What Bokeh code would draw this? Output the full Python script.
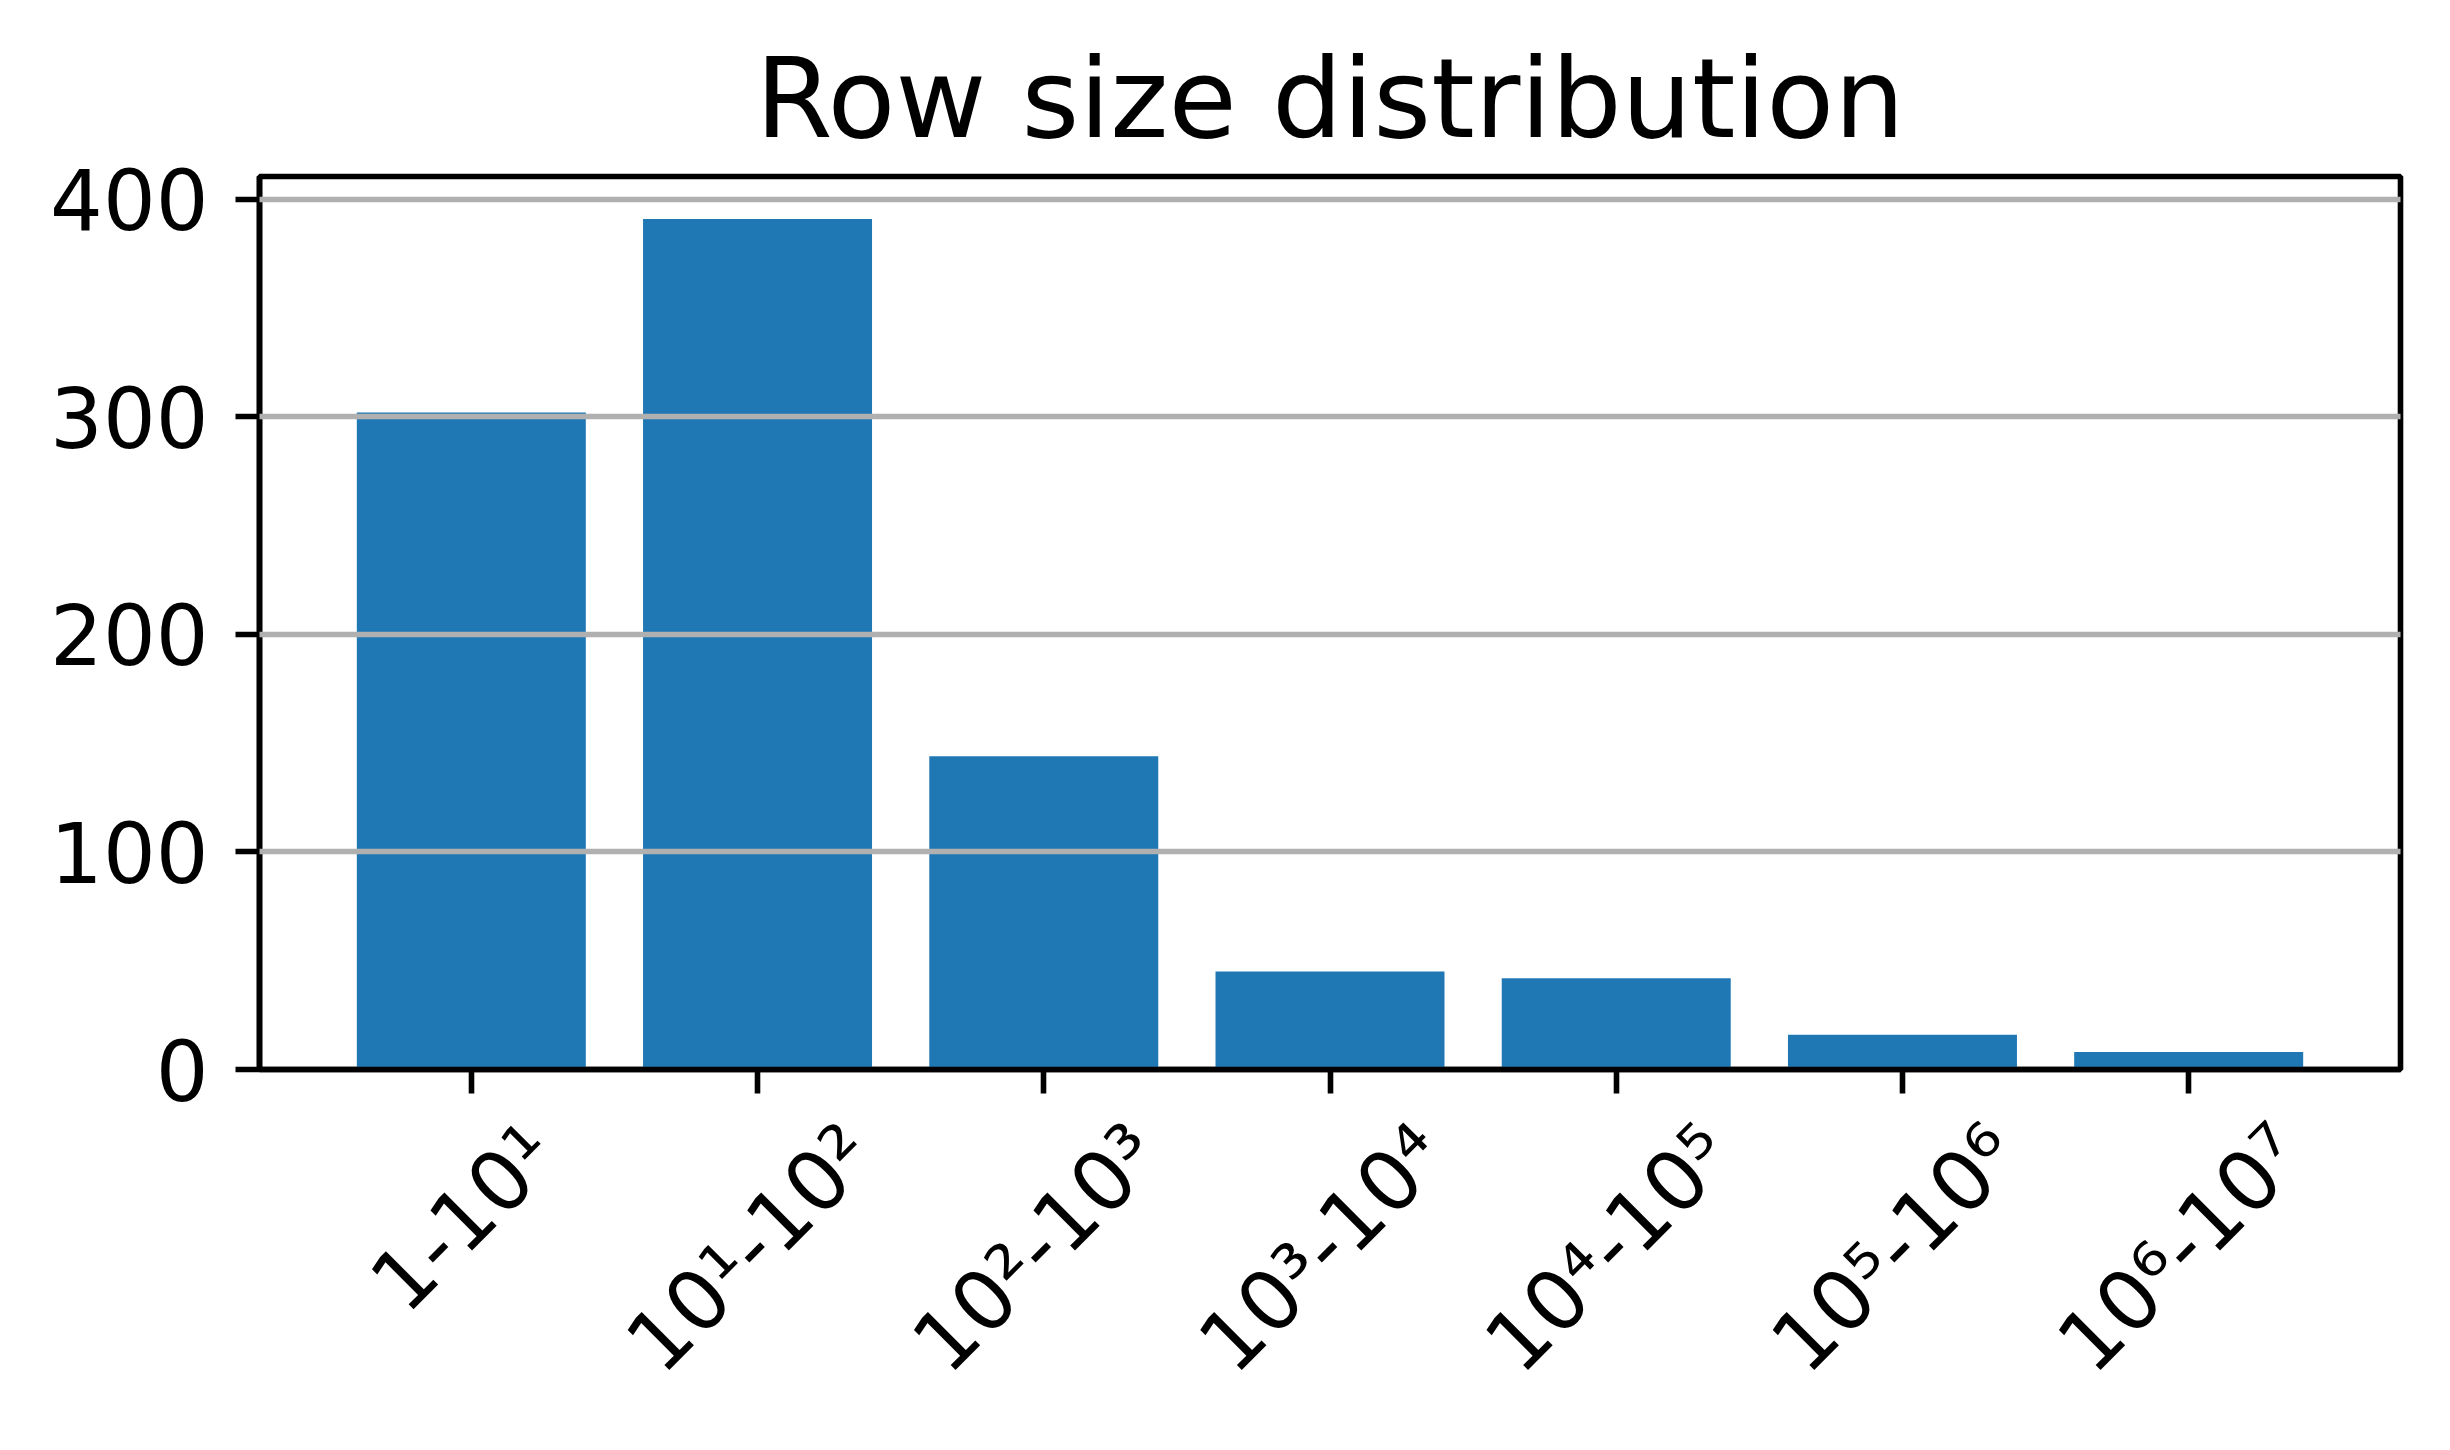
import math
from bokeh.plotting import figure
from bokeh.models import ColumnDataSource, Range1d, FixedTicker
from bokeh.embed import file_html
from bokeh.resources import INLINE

# ---- data ----
categories = ["1-10¹", "10¹-10²", "10²-10³", "10³-10⁴", "10⁴-10⁵", "10⁵-10⁶", "10⁶-10⁷"]
counts = [302, 391, 144, 45, 42, 16, 8]
y_ticks = [0, 100, 200, 300, 400]
grid_ticks = [100, 200, 300, 400]
title_text = "Row size distribution"

FONT = "DejaVu Sans"
LW = 5.6
W, H = 2434, 1434
BL, BR, BT, BB = 259, 34, 176, 365

xs = list(range(len(categories)))
ymax = max(counts) * 1.05
x0, x1 = -0.74, len(categories) - 1 + 0.74

p = figure(width=W, height=H, output_backend="svg", toolbar_location=None,
           x_range=Range1d(x0, x1), y_range=Range1d(0, ymax),
           min_border_left=BL, min_border_right=BR,
           min_border_top=BT, min_border_bottom=BB)
p.background_fill_color = "white"
p.border_fill_color = "white"
p.outline_line_color = "black"
p.outline_line_width = LW

src = ColumnDataSource(dict(x=xs, top=counts))
p.vbar(x="x", top="top", bottom=0, width=0.8, source=src,
       fill_color="#1f77b4", line_color=None)

# title
p.title.text = title_text
p.title.align = "center"
p.title.text_font = FONT
p.title.text_font_size = "111px"
p.title.text_font_style = "normal"
p.title.text_color = "black"
p.title.standoff = 27

# axes
for ax in (p.xaxis[0], p.yaxis[0]):
    ax.axis_line_color = "black"
    ax.axis_line_width = LW
    ax.major_tick_line_color = "black"
    ax.major_tick_line_width = LW
    ax.major_tick_out = 24
    ax.major_tick_in = 0
    ax.minor_tick_line_color = None
    ax.major_label_text_font = FONT
    ax.major_label_text_font_size = "83px"
    ax.major_label_text_color = "black"
    ax.major_label_standoff = 27

p.yaxis[0].ticker = FixedTicker(ticks=y_ticks)

# x axis: visible tick marks are minor ticks at the bar centres; the (invisible)
# major ticks carry the rotated labels, shifted so that each rotated label's
# bounding box is centred under its bar (matplotlib rotation=45 look).
px_per_unit = (W - BL - BR) / (x1 - x0)
label_pos = [round(x + (71.6 + (len(c) - 5) * 15.2) / px_per_unit, 6)
             for x, c in zip(xs, categories)]
xa = p.xaxis[0]
xa.ticker = FixedTicker(ticks=label_pos, minor_ticks=xs)
xa.major_label_overrides = {lp: c for lp, c in zip(label_pos, categories)}
xa.major_label_orientation = math.pi / 4
xa.major_tick_line_color = None
xa.major_tick_out = 24
xa.minor_tick_line_color = "black"
xa.minor_tick_line_width = LW
xa.minor_tick_out = 24
xa.minor_tick_in = 0
xa.major_label_standoff = 46

p.xgrid.visible = False
p.ygrid.ticker = FixedTicker(ticks=grid_ticks)
p.ygrid.grid_line_color = "#b0b0b0"
p.ygrid.grid_line_width = LW
p.ygrid.level = "annotation"

open("out.html", "w").write(file_html(p, INLINE))
